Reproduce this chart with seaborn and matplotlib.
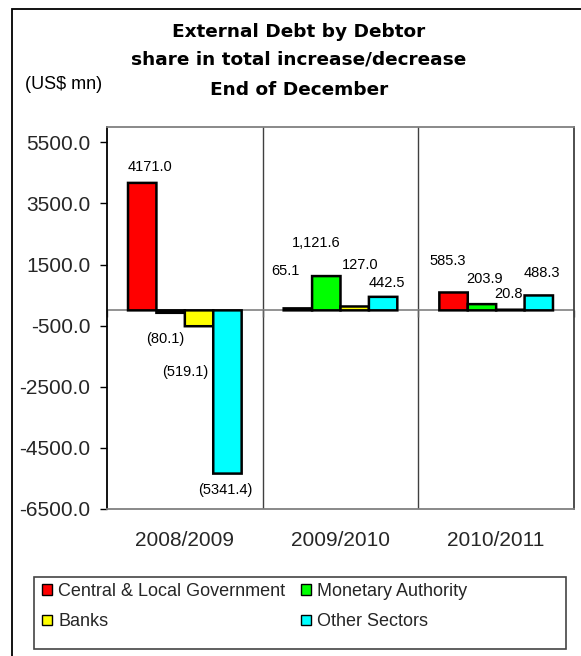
import numpy as np
import pandas as pd
import matplotlib
matplotlib.use("Agg")
import matplotlib.pyplot as plt
from matplotlib.patches import Rectangle, Patch
import seaborn as sns

# ---- data -------------------------------------------------------------
periods = ["2008/2009", "2009/2010", "2010/2011"]
debtors = ["Central & Local Government", "Monetary Authority", "Banks", "Other Sectors"]
central_local_gov = [4171.0, 65.1, 585.3]
monetary_authority = [-80.1, 1121.6, 203.9]
banks = [-519.1, 127.0, 20.8]
other_sectors = [-5341.4, 442.5, 488.3]
# cells whose value label is printed with a thousands separator
thousands_sep_cells = [("2009/2010", "Monetary Authority")]
y_ticks = [-6500, -4500, -2500, -500, 1500, 3500, 5500]

# ---- styling ----------------------------------------------------------
colors = ["#FF0000", "#00FF00", "#FFFF00", "#00FFFF"]
# value-label offsets in pixels (dx right, dy up) from the end of each bar
label_offsets = {
    "Central & Local Government": [(8, 16), (-12, 37), (-6, 31)],
    "Monetary Authority": [(-5, -26), (-10, 33), (3, 25)],
    "Banks": [(-14, -46), (5, 41), (-2, 16)],
    "Other Sectors": [(-2, -16), (4, 14), (3, 22)],
}

sns.set_theme(style="white")
plt.rcParams["font.family"] = ["Liberation Sans", "DejaVu Sans"]

W, H = 581, 656
fig = plt.figure(figsize=(W / 100, H / 100), dpi=100)
fig.patch.set_facecolor("white")

# axes box in pixel coordinates: left 107, right 574, top 127, bottom 509
ax = fig.add_axes([107 / W, (H - 509) / H, (574 - 107) / W, (509 - 127) / H])

df = pd.DataFrame({
    "period": periods * 4,
    "debtor": np.repeat(debtors, len(periods)),
    "value": central_local_gov + monetary_authority + banks + other_sectors,
})

sns.barplot(
    data=df, x="period", y="value", hue="debtor",
    order=periods, hue_order=debtors, palette=colors, saturation=1,
    width=0.73, edgecolor="black", linewidth=1.8,
    errorbar=None, legend=False, ax=ax, zorder=3,
)
for p in ax.patches:
    p.set_snap(False)

ax.set_ylim(-6500, 6000)
ax.set_xlim(-0.5, len(periods) - 0.5)
ax.set_yticks(y_ticks)
ax.set_yticklabels([f"{t:.1f}" for t in y_ticks])
ax.set_xlabel("")
ax.set_ylabel("")

ax.tick_params(axis="y", direction="out", length=5, width=1, color="black",
               labelsize=15, pad=7, left=True)
ax.tick_params(axis="x", length=0, labelsize=15, pad=16)

for side, col in [("left", "black"), ("top", "#808080"),
                  ("bottom", "#808080"), ("right", "#404040")]:
    ax.spines[side].set_visible(True)
    ax.spines[side].set_color(col)
    ax.spines[side].set_linewidth(1.3)

# category axis at zero, with tick marks at the category boundaries
bounds = np.arange(-0.5, len(periods), 1.0)
ax.axhline(0, color="#808080", lw=1.2, zorder=2)
ax.plot(bounds, [0] * len(bounds), ls="none", marker=3, markersize=5,
        mew=1.0, color="#606060", clip_on=False, zorder=2)
for b in bounds[1:-1]:
    ax.axvline(b, color="#404040", lw=1.0, zorder=1)

# value labels
def fmt(v, thousands=False):
    s = f"{abs(v):,.1f}" if thousands else f"{abs(v):.1f}"
    return f"({s})" if v < 0 else s

series = dict(zip(debtors, [central_local_gov, monetary_authority, banks, other_sectors]))
for debtor, container in zip(debtors, ax.containers):
    for i, rect in enumerate(container.patches):
        v = series[debtor][i]
        cx = rect.get_x() + rect.get_width() / 2
        dx, dy = label_offsets[debtor][i]
        ax.annotate(fmt(v, (periods[i], debtor) in thousands_sep_cells),
                    xy=(cx, v), xytext=(dx, dy), textcoords="offset pixels",
                    ha="center", va="center", fontsize=10.5, color="black",
                    zorder=5)

# titles
title_font = dict(family="DejaVu Sans", weight="bold", size=13.3, color="black")
fig.text(299 / W, 1 - 37 / H, "External Debt by Debtor", ha="center", va="baseline", **title_font)
fig.text(299 / W, 1 - 65 / H, "share in total increase/decrease", ha="center", va="baseline", **title_font)
fig.text(299 / W, 1 - 95 / H, "End of December", ha="center", va="baseline", **title_font)
fig.text(25 / W, 1 - 89 / H, "(US$ mn)", ha="left", va="baseline", fontsize=13, color="black")

# legend (entries laid out column by column)
handles = [Patch(facecolor=c, edgecolor="black", linewidth=1.0) for c in colors]
order = [0, 2, 1, 3]
fig.legend([handles[k] for k in order], [debtors[k] for k in order],
           ncol=2, loc="upper left", bbox_to_anchor=(42 / W, 1 - 583 / H),
           frameon=False, borderpad=0, borderaxespad=0,
           handlelength=0.55, handleheight=0.55, handletextpad=0.35,
           columnspacing=0.85, labelspacing=0.74, fontsize=13)
fig.patches.append(Rectangle((34 / W, (H - 649) / H), 532 / W, 72 / H,
                             transform=fig.transFigure, fill=False,
                             edgecolor="#444444", linewidth=1.2))

# outer chart frame (continues past the right and bottom edges)
fig.patches.append(Rectangle((12 / W, -0.1), 1.2, (1 - 9 / H) + 0.1,
                             transform=fig.transFigure, fill=False,
                             edgecolor="black", linewidth=1.3))

fig.savefig("out.png", dpi=100)
